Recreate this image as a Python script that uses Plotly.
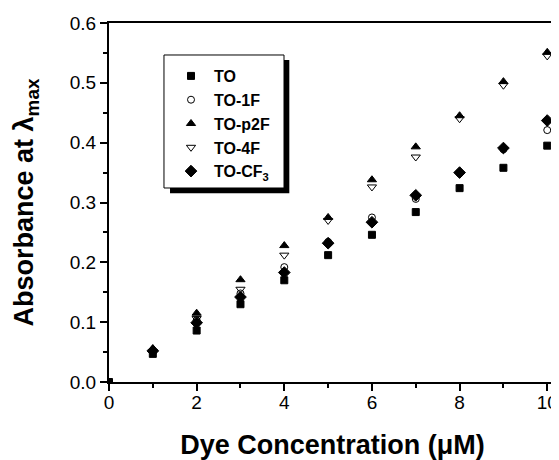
import plotly.graph_objects as go

conc = [1, 2, 3, 4, 5, 6, 7, 8, 9, 10]
names = ["TO", "TO-1F", "TO-p2F", "TO-4F", "TO-CF<sub>3</sub>"]
abs_TO   = [0.047, 0.086, 0.130, 0.170, 0.212, 0.246, 0.284, 0.324, 0.358, 0.395]
abs_1F   = [0.051, 0.103, 0.148, 0.192, 0.234, 0.275, 0.306, 0.349, 0.389, 0.421]
abs_p2F  = [0.056, 0.115, 0.171, 0.228, 0.275, 0.338, 0.393, 0.445, 0.502, 0.551]
abs_4F   = [0.051, 0.106, 0.155, 0.212, 0.270, 0.326, 0.376, 0.440, 0.496, 0.545]
abs_CF3  = [0.052, 0.099, 0.142, 0.183, 0.232, 0.267, 0.312, 0.350, 0.391, 0.437]
series = [abs_TO, abs_1F, abs_p2F, abs_4F, abs_CF3]
origin_x = [0]
origin_y = [0]

symbols = ["square", "circle-open", "triangle-up", "triangle-down-open", "diamond"]
sizes = [7, 7, 8, 8, 9]

fig = go.Figure()
for i, (nm, ys) in enumerate(zip(names, series)):
    xs = conc
    if i == 0:
        xs = origin_x + conc
        ys = origin_y + ys
    fig.add_trace(go.Scatter(
        x=xs, y=ys, mode="markers", name=nm,
        marker=dict(symbol=symbols[i], size=sizes[i], color="black",
                    line=dict(color="black", width=1)),
    ))

# legend frame with drop shadow
fig.add_shape(type="rect", xref="paper", yref="paper",
              x0=0.1365, x1=0.4034, y0=0.5256, y1=0.897,
              fillcolor="black", line=dict(width=0), layer="above")
fig.add_shape(type="rect", xref="paper", yref="paper",
              x0=0.123, x1=0.3915, y0=0.5404, y1=0.9109,
              fillcolor="white", line=dict(color="black", width=1), layer="above")

fig.update_layout(
    width=551, height=452,
    margin=dict(l=101, r=3, t=15, b=78),
    paper_bgcolor="white", plot_bgcolor="white",
    font=dict(family="Liberation Sans, Arial, sans-serif", color="black", size=19),
    showlegend=True,
    legend=dict(x=0.132, y=0.8997, xanchor="left", yanchor="top",
                bgcolor="rgba(0,0,0,0)", borderwidth=0,
                font=dict(size=16, weight="bold"), tracegroupgap=0,
                itemwidth=36),
    xaxis=dict(range=[0, 10.2], tickvals=[0, 2, 4, 6, 8, 10], automargin=False,
               showline=True, linecolor="black", linewidth=2, mirror=True,
               ticks="outside", ticklen=7, tickwidth=2, tickcolor="black",
               ticklabelstandoff=-5,
               minor=dict(tickvals=[1, 3, 5, 7, 9], ticks="outside", ticklen=4, tickwidth=2, tickcolor="black"),
               showgrid=False, zeroline=False,
               title=dict(text="Dye Concentration (μM)", font=dict(size=27, weight="bold"), standoff=30)),
    yaxis=dict(range=[0, 0.6], tickvals=[0, 0.1, 0.2, 0.3, 0.4, 0.5, 0.6], tickformat=".1f", automargin=False,
               showline=True, linecolor="black", linewidth=2, mirror=True,
               ticks="outside", ticklen=7, tickwidth=2, tickcolor="black",
               minor=dict(tickvals=[0.05, 0.15, 0.25, 0.35, 0.45, 0.55], ticks="outside", ticklen=4, tickwidth=2, tickcolor="black"),
               showgrid=False, zeroline=False,
               title=dict(text="Absorbance at λ<sub>max</sub>", font=dict(size=27, weight="bold"), standoff=28)),
)

fig.write_html("out.html")
